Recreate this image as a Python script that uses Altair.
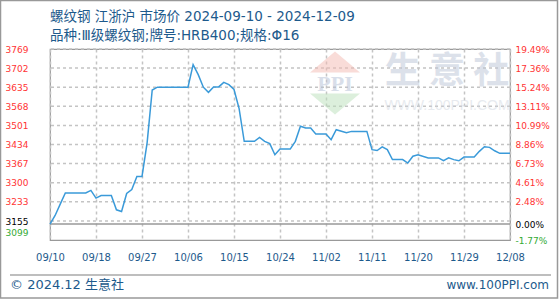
import json
import altair as alt
import pandas as pd

# ---------------- data ----------------
title_line1 = "螺纹钢 江浙沪 市场价 2024-09-10 - 2024-12-09"
title_line2 = "品种:Ⅲ级螺纹钢;牌号:HRB400;规格:Φ16"
footer_left = "© 2024.12 生意社"
footer_right = "www.100PPI.com"
watermark_cn = "生 意 社"
watermark_url = "WWW.100PPI.COM"
watermark_logo = "PPI"

x_labels = ["09/10", "09/18", "09/27", "10/06", "10/15", "10/24",
            "11/02", "11/11", "11/20", "11/29", "12/08"]
x_tick_pos = [0, 9, 18, 27, 36, 45, 54, 63, 72, 81, 90]

# day offset from 2024-09-10
day_offset = [0, 1, 2, 3, 7, 8, 9, 10, 12, 13, 14, 15, 16, 17, 18, 19, 20, 21,
              27, 28, 29, 30, 31, 32, 33, 34, 35, 36, 37, 38, 40, 41, 42, 43, 44, 45,
              47, 48, 49, 50, 51, 52, 54, 55, 56, 58, 59, 62, 63, 64, 65, 66, 67,
              69, 70, 71, 72, 74, 76, 77, 78, 79, 80, 81, 83, 84, 85, 86, 87, 88, 90]
price = [3155, 3185, 3225, 3264, 3264, 3273, 3246, 3255, 3255, 3205, 3199, 3262, 3276, 3322, 3322, 3440, 3625, 3635,
         3635, 3714, 3679, 3635, 3617, 3636, 3636, 3652, 3644, 3627, 3560, 3445, 3445, 3459, 3445, 3437, 3398, 3418,
         3418, 3445, 3498, 3492, 3492, 3471, 3471, 3451, 3486, 3475, 3480, 3480, 3416, 3413, 3426, 3416, 3381,
         3381, 3369, 3393, 3398, 3387, 3387, 3377, 3387, 3381, 3377, 3390, 3390, 3410, 3426, 3424, 3412, 3403, 3403]

left_ticks = [3769, 3702, 3635, 3568, 3501, 3434, 3367, 3300, 3233, 3155, 3099]
right_labels = ["19.49%", "17.36%", "15.24%", "13.11%", "10.99%", "8.86%",
                "6.73%", "4.61%", "2.48%", "0.00%", "-1.77%"]
grid_vals = [3769, 3702, 3635, 3568, 3501, 3434, 3367, 3300, 3233, 3166]
base_price = 3155
y_min, y_max = 3099, 3769

# ---------------- styles ----------------
BLUE_TXT = "#1d5a8c"
LINE_C = "#3a9ad9"
RED = "#ff3333"
GREEN = "#33aa33"
LAT = "DejaVu Sans, Noto Sans CJK SC"
GRID_C = "#c4c4c4"

df = pd.DataFrame({"d": day_offset, "p": price})
grid_df = pd.DataFrame({"v": grid_vals})
base_df = pd.DataFrame({"v": [base_price]})
one = pd.DataFrame({"k": [0]})

yscale = alt.Scale(domain=[y_min, y_max], nice=False, zero=False)
xscale = alt.Scale(domain=[0, 90], nice=False, zero=False)

color_expr = f"datum.value > {base_price} ? '{RED}' : (datum.value == {base_price} ? '#000000' : '{GREEN}')"
right_map = json.dumps({str(v): l for v, l in zip(left_ticks, right_labels)})
x_label_expr = f"{json.dumps(x_labels)}[round(datum.value / 9)]"

grid = alt.Chart(grid_df).mark_rule(color=GRID_C, strokeDash=[3, 3], strokeWidth=1.5).encode(
    y=alt.Y("v:Q", scale=yscale, axis=alt.Axis(
        orient="left", values=left_ticks, format="d", title=None, grid=False,
        domain=False, ticks=False, labelFont=LAT, labelFontSize=9,
        labelPadding=22, labelAlign="right", labelBaseline="middle",
        labelOverlap=False, labelFlush=False,
        labelColor={"expr": color_expr},
        labelOffset={"expr": f"datum.value == {y_min} ? -8 : (datum.value == {base_price} ? -3 : 0)"},
    ))
)

base = alt.Chart(base_df).mark_rule(color="#999999", strokeWidth=1.5).encode(
    y=alt.Y("v:Q", scale=yscale, axis=None)
)

# watermark (semi-transparent so the grid shows through)
wm_red = alt.Chart(one).mark_point(
    shape="M-1,0.42L0,-0.42L1,0.42Z", filled=True, size=2500, color="#f3b9b1", opacity=0.5
).encode(x=alt.value(285), y=alt.value(13))
wm_green = alt.Chart(one).mark_point(
    shape="M-1,-0.42L0,0.42L1,-0.42Z", filled=True, size=2500, color="#b9dfb9", opacity=0.5
).encode(x=alt.value(285), y=alt.value(55))
wm_ppi = alt.Chart(one).mark_text(
    text=watermark_logo, font="Liberation Serif", fontWeight="bold", fontSize=22,
    color="#b3bfd5", opacity=0.5, baseline="middle", align="center"
).encode(x=alt.value(285), y=alt.value(35))
wm_cn = alt.Chart(one).mark_text(
    text=watermark_cn, font="Noto Sans CJK SC", fontWeight="bold", fontSize=36,
    color="#bbc5d7", opacity=0.5, baseline="middle", align="center"
).encode(x=alt.value(397), y=alt.value(23))
wm_url = alt.Chart(one).mark_text(
    text=watermark_url, font="Liberation Sans", fontSize=14,
    color="#d1d7e1", opacity=0.5, baseline="middle", align="center"
).encode(x=alt.value(397), y=alt.value(57))

t1 = alt.Chart(one).mark_text(
    text=title_line1, font=LAT, fontSize=13.5, color=BLUE_TXT, align="left", baseline="middle"
).encode(x=alt.value(0), y=alt.value(-32))
t2 = alt.Chart(one).mark_text(
    text=title_line2, font=LAT, fontSize=13.5, color=BLUE_TXT, align="left", baseline="middle"
).encode(x=alt.value(0), y=alt.value(-13))
f1 = alt.Chart(one).mark_text(
    text=footer_left, font=LAT, fontSize=13, color=BLUE_TXT, align="left", baseline="middle"
).encode(x=alt.value(-40), y=alt.value(236))
f2 = alt.Chart(one).mark_text(
    text=footer_right, font=LAT, fontSize=12, color=BLUE_TXT, align="right", baseline="middle"
).encode(x=alt.value(499), y=alt.value(236))

foot_rule = alt.Chart(one).mark_rule(color="#a8a8a8", strokeWidth=1.5).encode(
    x=alt.value(-40), x2=alt.value(501), y=alt.value(226)
)

outer = alt.Chart(one).mark_rect(filled=False, stroke="#999999", strokeWidth=1.5).encode(
    x=alt.value(-49.5), x2=alt.value(507.5), y=alt.value(-48.5), y2=alt.value(249)
)

line = alt.Chart(df).mark_line(color=LINE_C, strokeWidth=1.5).encode(
    x=alt.X("d:Q", scale=xscale, axis=alt.Axis(
        values=x_tick_pos, labelExpr=x_label_expr, title=None, grid=True,
        gridColor=GRID_C, gridDash=[3, 3], gridWidth=1.5, domain=False, ticks=False,
        labelOverlap=False, labelFlush=False,
        labelFont=LAT, labelFontSize=10, labelColor=BLUE_TXT, labelPadding=12,
    )),
    y=alt.Y("p:Q", scale=yscale, axis=alt.Axis(
        orient="right", values=left_ticks, title=None, grid=False, domain=False, ticks=False,
        labelOverlap=False, labelFlush=False,
        labelExpr=f"{right_map}['' + datum.value]", labelFont=LAT, labelFontSize=9,
        labelPadding=5, labelAlign="left", labelBaseline="middle",
        labelColor={"expr": color_expr},
    )),
)

chart = alt.layer(
    grid, base, wm_red, wm_green, wm_ppi, wm_cn, wm_url, t1, t2, f1, f2, foot_rule, outer, line
).resolve_scale(y="independent").properties(
    width=460, height=191,
    padding={"left": 50, "top": 49, "right": 50, "bottom": 60},
    autosize="none",
).configure(background="white").configure_view(stroke="#999999", strokeWidth=1.2)

chart.save("out.html", embed_options={"renderer": "svg", "actions": False})
